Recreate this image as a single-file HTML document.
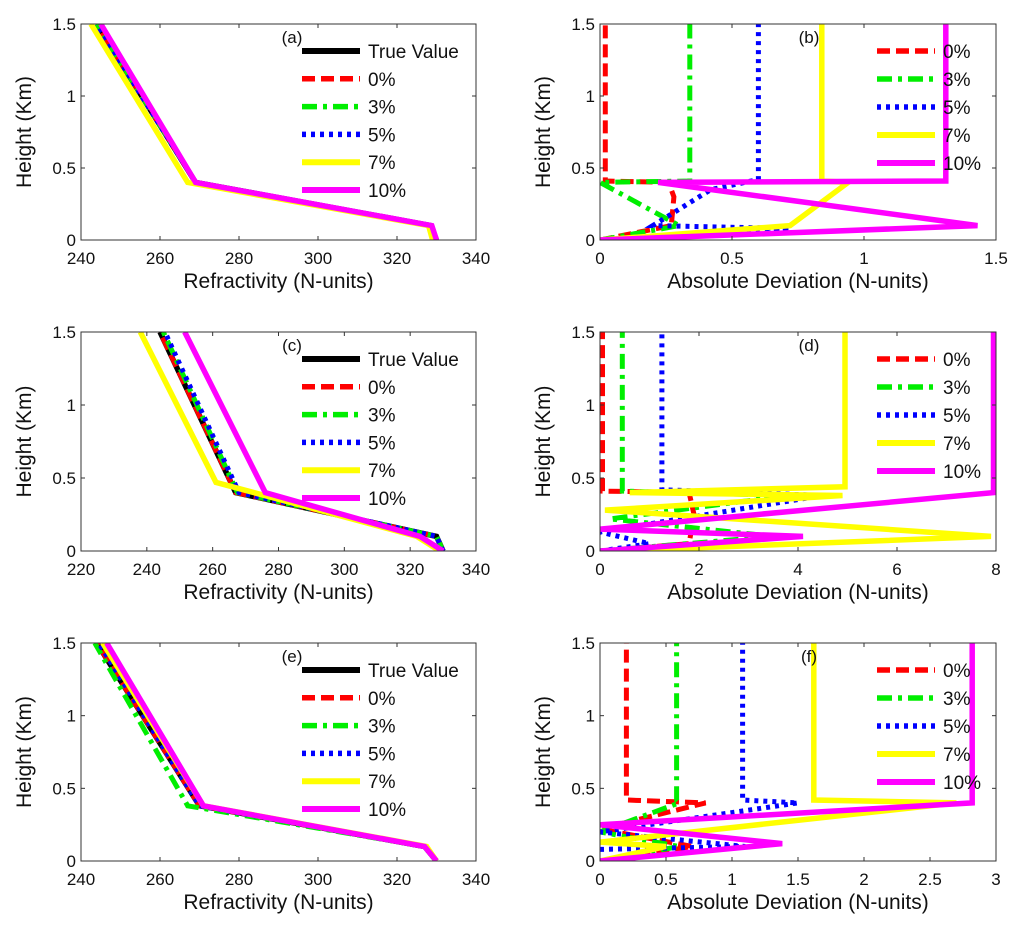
<!DOCTYPE html>
<html><head><meta charset="utf-8">
<style>
html,body{margin:0;padding:0;background:#fff;}
svg{display:block;font-family:"Liberation Sans",Arial,sans-serif;}
</style></head>
<body>
<svg id="fig" width="1024" height="933" viewBox="0 0 1024 933" xmlns="http://www.w3.org/2000/svg"></svg>
<script>
// ---------- data ----------
const seriesNames = ["True Value","0%","3%","5%","7%","10%"];
const heightTicks = [0,0.5,1,1.5];
const heightTickLabels = ["0","0.5","1","1.5"];

// Panel (a): refractivity vs height
const aHeights = [0,0.1,0.4,1.5];
const aTrue = [330,328.5,269,244];
const a0 = [330,328.5,269,244];
const a3 = [330,328.5,269,244];
const a5 = [330,328.5,269,244];
const a7 = [329,328,267,242.5];
const a10 = [330,328.8,269,245];
const aTicks = [240,260,280,300,320,340];

// Panel (c)
const cHeights = [0,0.1,0.4,1.5];
const cHeights7 = [0,0.1,0.47,1.5];
const cTrue = [330,328,267,244];
const c0 = [330,328,267,244];
const c3 = [330,328,267.5,245];
const c5 = [330,328,268,245.5];
const c7 = [329,322,261,238];
const c10 = [330,323,276,251.5];
const cTicks = [220,240,260,280,300,320,340];

// Panel (e)
const eHeights = [0,0.1,0.38,1.5];
const eTrue = [330,327,270,244];
const e0 = [330,327,270,244];
const e3 = [330,327,267,243.5];
const e5 = [330,327,270,244.5];
const e7 = [330,327.5,271,245.5];
const e10 = [330,327,271,246.5];
const eTicks = [240,260,280,300,320,340];

// Panel (b): deviation
const b0x = [0,0.27,0.28,0.26,0.02,0.02];   const b0y = [0,0.1,0.3,0.4,0.41,1.5];
const b3x = [0,0.3,0,0.34,0.34];            const b3y = [0,0.1,0.4,0.41,1.5];
const b5x = [0.08,0.72,0.2,0.42,0.6,0.6];   const b5y = [0,0.08,0.1,0.35,0.42,1.5];
const b7x = [0,0.72,0.94,0.84,0.84];        const b7y = [0,0.1,0.4,0.41,1.5];
const b10x = [0,1.43,0.22,1.31,1.31];       const b10y = [0,0.1,0.4,0.41,1.5];
const bTicks = [0,0.5,1,1.5]; const bTickLabels = ["0","0.5","1","1.5"];

// Panel (d)
const d0x = [0,1.8,1.9,1.8,0.05,0.05];      const d0y = [0,0.05,0.25,0.4,0.41,1.5];
const d3x = [0,3.5,0.2,3.8,0.45,0.45];      const d3y = [0,0.1,0.22,0.38,0.41,1.5];
const d5x = [0,1.0,0,4.5,1.25,1.25];        const d5y = [0,0.05,0.13,0.38,0.42,1.5];
const d7x = [0.3,7.9,0.1,4.9,0.6,4.95,4.95]; const d7y = [0,0.1,0.28,0.38,0.4,0.44,1.5];
const d10x = [0,4.1,0,7.95,7.95];           const d10y = [0,0.1,0.15,0.4,1.5];
const dTicks = [0,2,4,6,8]; const dTickLabels = ["0","2","4","6","8"];

// Panel (f)
const f0x = [0,0.7,0,0.8,0.2,0.2];          const f0y = [0,0.1,0.22,0.4,0.42,1.5];
const f3x = [0,0.6,0,0.6,0.58,0.58];        const f3y = [0,0.1,0.2,0.4,0.42,1.5];
const f5x = [0,1.1,0,1.5,1.08,1.08];        const f5y = [0.08,0.1,0.2,0.4,0.42,1.5];
const f7x = [0,0.5,0,2.7,1.62,1.62];        const f7y = [0,0.1,0.13,0.4,0.42,1.5];
const f10x = [0,1.38,0,2.82,2.82];          const f10y = [0,0.12,0.25,0.4,1.5];
const fTicks = [0,0.5,1,1.5,2,2.5,3]; const fTickLabels = ["0","0.5","1","1.5","2","2.5","3"];

// ---------- styles ----------
const styles = {
  "True Value": {c:"#000000",w:5.5,d:""},
  "0%": {c:"#ff0000",w:5,d:"13,6"},
  "3%": {c:"#00ee00",w:5,d:"15,6,4,6"},
  "5%": {c:"#0000ff",w:5,d:"4,5"},
  "7%": {c:"#ffff00",w:5.5,d:""},
  "10%": {c:"#ff00ff",w:5.5,d:""}
};
const NS = "http://www.w3.org/2000/svg";
const svg = document.getElementById("fig");
function mk(tag, attrs, parent){
  const el = document.createElementNS(NS, tag);
  for (const k in attrs) el.setAttribute(k, attrs[k]);
  (parent||svg).appendChild(el);
  return el;
}

function panel(opt){
  const g = mk("g",{});
  
  
  const L=opt.L,R=opt.R,T=opt.T,B=opt.B;
  const xs = v => L + (v-opt.xmin)/(opt.xmax-opt.xmin)*(R-L);
  const ys = v => B - v/1.5*(B-T);
  const cid = "clip"+opt.letter;
  const defs = mk("defs",{},g);
  const cp = mk("clipPath",{id:cid},defs);
  mk("rect",{x:L,y:T,width:R-L,height:B-T},cp);
  const sg = mk("g",{"clip-path":"url(#"+cid+")"},g);
  opt.series.forEach(s=>{
    const st = styles[s.name];
    const pts = s.x.map((v,i)=>xs(v).toFixed(1)+","+ys(s.y[i]).toFixed(1)).join(" ");
    const pl = mk("polyline",{points:pts,fill:"none",stroke:st.c,"stroke-width":st.w,"stroke-dasharray":st.d,"stroke-linejoin":"miter"},sg);
    
    
  });
  const box = mk("rect",{x:L,y:T,width:R-L,height:B-T,fill:"none",stroke:"#333","stroke-width":1},g);
  
  
  opt.xticks.forEach((v,i)=>{
    const x = xs(v);
    mk("line",{x1:x,y1:B,x2:x,y2:B-4,stroke:"#333"},g);
    mk("line",{x1:x,y1:T,x2:x,y2:T+4,stroke:"#333"},g);
    const t = mk("text",{x:x,y:B+24,"font-size":17,"text-anchor":"middle",fill:"#111"},g);
    t.textContent = opt.xlabels[i];
    
    
  });
  heightTicks.forEach((v,i)=>{
    const y = ys(v);
    mk("line",{x1:L,y1:y,x2:L+4,y2:y,stroke:"#333"},g);
    mk("line",{x1:R,y1:y,x2:R-4,y2:y,stroke:"#333"},g);
    const t = mk("text",{x:L-5,y:y+6,"font-size":17,"text-anchor":"end",fill:"#111"},g);
    t.textContent = heightTickLabels[i];
    
    
  });
  const xt = mk("text",{x:(L+R)/2,y:B+48,"font-size":21,"text-anchor":"middle",fill:"#111"},g);
  xt.textContent = opt.xtitle;
  
  
  const yt = mk("text",{x:0,y:0,"font-size":21,"text-anchor":"middle",fill:"#111",transform:"translate("+(L-50)+","+((T+B)/2)+") rotate(-90)"},g);
  yt.textContent = "Height (Km)";
  
  
  const pl = mk("text",{x:opt.labX,y:T+19,"font-size":17,"text-anchor":"middle",fill:"#111"},g);
  pl.textContent = "("+opt.letter+")";
  
  
  const lg = mk("g",{},g);
  
  
  opt.legend.forEach((n,i)=>{
    const st = styles[n];
    const y = T + opt.legY0 + i*opt.legDy;
    mk("line",{x1:opt.legX,y1:y,x2:opt.legX+58,y2:y,stroke:st.c,"stroke-width":st.w+0.5,"stroke-dasharray":st.d},lg);
    const t = mk("text",{x:opt.legX+66,y:y+7,"font-size":19,fill:"#111"},lg);
    t.textContent = n;
    
    
  });
}

const rowsT = [24,332,643], rowsB = [240,551,861];
const refx = "Refractivity (N-units)", devx = "Absolute Deviation (N-units)";
function refPanel(letter,row,xmin,ticks,H,tr,s0,s3,s5,s7,s10,H7){
  panel({letter,L:81,R:476,T:rowsT[row],B:rowsB[row],xmin,xmax:340,xticks:ticks,xlabels:ticks.map(String),xtitle:refx,labX:292,
    legX:302,legY0:27,legDy:27.8,legend:seriesNames,
    series:[{name:"True Value",x:tr,y:H},{name:"0%",x:s0,y:H},{name:"3%",x:s3,y:H},{name:"5%",x:s5,y:H},{name:"7%",x:s7,y:H7||H},{name:"10%",x:s10,y:H}]});
}
refPanel("a",0,240,aTicks,aHeights,aTrue,a0,a3,a5,a7,a10);
refPanel("c",1,220,cTicks,cHeights,cTrue,c0,c3,c5,c7,c10,cHeights7);
refPanel("e",2,240,eTicks,eHeights,eTrue,e0,e3,e5,e7,e10);

function devPanel(letter,row,xmax,ticks,labels,sx,sy){
  const names = ["0%","3%","5%","7%","10%"];
  panel({letter,L:600,R:996,T:rowsT[row],B:rowsB[row],xmin:0,xmax,xticks:ticks,xlabels:labels,xtitle:devx,labX:809,
    legX:877,legY0:27,legDy:28,legend:names,
    series:names.map((n,i)=>({name:n,x:sx[i],y:sy[i]}))});
}
devPanel("b",0,1.5,bTicks,bTickLabels,[b0x,b3x,b5x,b7x,b10x],[b0y,b3y,b5y,b7y,b10y]);
devPanel("d",1,8,dTicks,dTickLabels,[d0x,d3x,d5x,d7x,d10x],[d0y,d3y,d5y,d7y,d10y]);
devPanel("f",2,3,fTicks,fTickLabels,[f0x,f3x,f5x,f7x,f10x],[f0y,f3y,f5y,f7y,f10y]);
</script>
</body></html>
